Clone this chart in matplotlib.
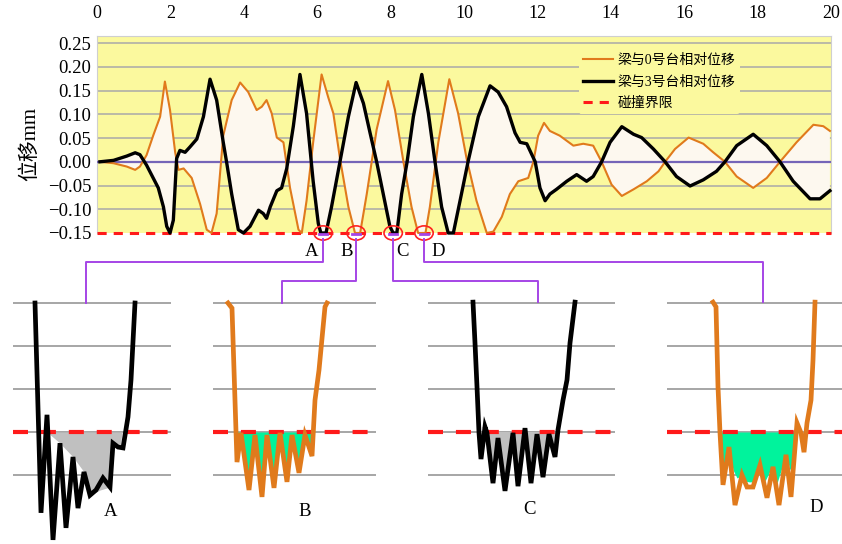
import matplotlib.pyplot as plt
from matplotlib.patches import Ellipse
import numpy as np

plt.rcParams['font.family'] = ['Liberation Serif', 'Noto Sans CJK SC']

# relative displacement of the beam (mm) against time (s)
orange_t = [0.08, 0.45, 0.81, 1.04, 1.17, 1.35, 1.53, 1.72, 1.85, 1.99,
            2.13, 2.22, 2.36, 2.58, 2.81, 2.99, 3.12, 3.26, 3.44, 3.67,
            3.90, 4.12, 4.35, 4.49, 4.62, 4.76, 4.90, 5.08, 5.26, 5.49,
            5.58, 5.71, 5.89, 6.12, 6.30, 6.44, 6.62, 6.85, 7.03, 7.17,
            7.35, 7.62, 7.93, 8.12, 8.35, 8.57, 8.75, 8.95, 9.07, 9.30,
            9.60, 9.84, 10.07, 10.34, 10.62, 10.80, 11.03, 11.25, 11.48, 11.75,
            11.89, 12.02, 12.18, 12.34, 12.61, 12.98, 13.25, 13.52, 13.75, 14.02,
            14.30, 14.62, 14.98, 15.30, 15.48, 15.75, 16.12, 16.52, 16.79, 17.11,
            17.43, 17.88, 18.25, 18.61, 19.06, 19.52, 19.79, 19.97]
orange_y = [0.000, -0.003, -0.010, -0.017, -0.010, 0.014, 0.055, 0.095, 0.169, 0.109,
            0.020, -0.017, -0.014, -0.034, -0.089, -0.143, -0.150, -0.109, 0.055, 0.130,
            0.167, 0.147, 0.109, 0.116, 0.130, 0.102, 0.051, 0.041, -0.055, -0.143,
            -0.150, -0.082, 0.041, 0.184, 0.136, 0.102, 0.007, -0.095, -0.150, -0.150,
            -0.068, 0.068, 0.170, 0.109, 0.000, -0.095, -0.150, -0.150, -0.095, 0.041,
            0.174, 0.102, 0.007, -0.082, -0.150, -0.147, -0.116, -0.068, -0.041, -0.034,
            0.000, 0.055, 0.082, 0.065, 0.055, 0.034, 0.038, 0.034, 0.000, -0.048,
            -0.072, -0.058, -0.041, -0.020, 0.000, 0.027, 0.051, 0.038, 0.020, 0.000,
            -0.031, -0.055, -0.034, 0.000, 0.041, 0.078, 0.075, 0.065]

black_t = [0.08, 0.45, 0.81, 1.04, 1.17, 1.35, 1.53, 1.67, 1.81, 1.90,
           1.99, 2.08, 2.17, 2.26, 2.40, 2.53, 2.72, 2.90, 3.08, 3.26,
           3.44, 3.53, 3.67, 3.85, 3.99, 4.17, 4.40, 4.53, 4.62, 4.72,
           4.90, 5.03, 5.17, 5.35, 5.53, 5.71, 5.89, 6.03, 6.10, 6.24,
           6.39, 6.62, 6.85, 7.06, 7.26, 7.44, 7.62, 7.80, 7.98, 8.07,
           8.17, 8.30, 8.45, 8.62, 8.85, 9.03, 9.21, 9.39, 9.57, 9.71,
           9.93, 10.11, 10.39, 10.71, 10.93, 11.16, 11.39, 11.53, 11.71, 11.94,
           12.07, 12.21, 12.34, 12.52, 12.80, 13.07, 13.34, 13.52, 13.75, 13.98,
           14.30, 14.62, 14.84, 15.16, 15.48, 15.79, 16.16, 16.52, 16.88, 17.11,
           17.43, 17.88, 18.25, 18.61, 18.97, 19.43, 19.70, 19.97]
black_y = [0.000, 0.003, 0.012, 0.019, 0.015, -0.007, -0.034, -0.055, -0.095, -0.136,
           -0.150, -0.123, 0.007, 0.024, 0.020, 0.031, 0.048, 0.095, 0.174, 0.130,
           0.041, 0.000, -0.068, -0.143, -0.150, -0.136, -0.102, -0.109, -0.119, -0.095,
           -0.061, -0.055, -0.014, 0.075, 0.184, 0.102, -0.041, -0.130, -0.150, -0.150,
           -0.095, 0.000, 0.095, 0.167, 0.123, 0.061, 0.000, -0.068, -0.136, -0.150,
           -0.150, -0.068, 0.000, 0.095, 0.184, 0.102, 0.000, -0.095, -0.150, -0.150,
           -0.068, 0.000, 0.095, 0.160, 0.147, 0.116, 0.061, 0.041, 0.038, 0.000,
           -0.055, -0.082, -0.068, -0.058, -0.041, -0.027, -0.041, -0.031, 0.000, 0.041,
           0.074, 0.058, 0.051, 0.027, 0.000, -0.031, -0.051, -0.038, -0.020, 0.000,
           0.034, 0.058, 0.034, 0.000, -0.041, -0.078, -0.078, -0.061]

limit = -0.15
x_ticks = list(range(0, 21, 2))
y_ticks = [-0.15, -0.10, -0.05, 0.00, 0.05, 0.10, 0.15, 0.20, 0.25]
legend_labels = ['梁与0号台相对位移', '梁与3号台相对位移', '碰撞界限']
y_label = '位移mm'

mark_names = ['A', 'B', 'C', 'D']
mark_t = [6.16, 7.06, 8.07, 8.91]

# zoomed views of the four collisions (local time, mm)
a_x = [2.2, 2.8, 3.4, 4.0, 4.7, 5.3, 6.0, 6.5, 7.1, 7.7, 8.3, 9.0, 9.7, 10.0, 10.5, 11.0, 11.5, 11.8, 12.2]
a_y = [-0.1200, -0.1688, -0.1460, -0.1751, -0.1526, -0.1723, -0.1558, -0.1677, -0.1593, -0.1647,
       -0.1635, -0.1607, -0.1628, -0.1526, -0.1535, -0.1537, -0.1465, -0.1379, -0.1200]
a_fill_x = [3.5, 4.7, 6.0, 7.1, 7.7, 8.7, 9.7, 10.2, 10.7, 10.9]
a_fill_y = [-0.1502, -0.1526, -0.1558, -0.1593, -0.1647, -0.1635, -0.1628, -0.1526, -0.1535, -0.1502]

b_x = [1.5, 1.9, 2.4, 2.8, 3.6, 4.2, 4.9, 5.4, 6.1, 6.7, 7.4, 7.9, 8.6, 9.2, 9.9, 10.2, 10.6, 11.2, 11.4]
b_y = [-0.1200, -0.1212, -0.1570, -0.1502, -0.1635, -0.1507, -0.1651, -0.1507, -0.1630, -0.1502,
       -0.1616, -0.1507, -0.1595, -0.1507, -0.1556, -0.1426, -0.1356, -0.1209, -0.1200]

c_x = [4.5, 4.7, 4.9, 5.1, 5.3, 5.7, 5.9, 6.5, 7.0, 7.7, 8.5, 9.0, 9.7, 10.3, 10.9, 11.5,
       12.1, 12.7, 13.0, 13.5, 13.9, 14.2, 14.7]
c_y = [-0.1198, -0.1293, -0.1395, -0.1502, -0.1563, -0.1488, -0.1502, -0.1619, -0.1514, -0.1637,
       -0.1502, -0.1626, -0.1491, -0.1619, -0.1505, -0.1605, -0.1505, -0.1558, -0.1495, -0.1426,
       -0.1379, -0.1293, -0.1198]

d_x = [4.6, 4.9, 5.1, 5.3, 5.6, 6.2, 6.8, 7.5, 8.0, 8.6, 9.3, 10.0, 10.6, 11.2, 11.9, 12.4,
       12.7, 13.0, 13.4, 13.7, 14.0, 14.4, 14.6, 14.8]
d_y = [-0.1198, -0.1209, -0.1395, -0.1502, -0.1623, -0.1535, -0.1670, -0.1600, -0.1628, -0.1628,
       -0.1577, -0.1653, -0.1581, -0.1670, -0.1553, -0.1651, -0.1565, -0.1479, -0.1502, -0.1547,
       -0.1479, -0.1426, -0.1333, -0.1198]
d_fill_x = [5.3, 5.6, 6.2, 6.6, 7.0, 7.5, 7.8, 8.2, 8.7, 9.2, 9.8, 10.5, 11.0, 11.9, 12.3, 12.7, 13.0]
d_fill_y = [-0.1502, -0.1612, -0.1535, -0.1588, -0.1607, -0.1600, -0.1614, -0.1616, -0.1616,
            -0.1577, -0.1614, -0.1581, -0.1619, -0.1553, -0.1588, -0.1565, -0.1502]

inset_levels = [-0.12, -0.13, -0.14, -0.15, -0.16]

ORANGE = '#e07a1c'
PURPLE = '#a545e6'
W, H = 842, 544

fig = plt.figure(figsize=(W / 100, H / 100), dpi=100)


def px_axes(left, top, width, height):
    return fig.add_axes([left / W, 1 - (top + height) / H, width / W, height / H])


# ---- main chart
ax = px_axes(97, 36, 734, 197)
ax.set_facecolor('#fbf99e')
ax.set_xlim(0, 20)
ax.set_ylim(-0.15, 0.265)
for v in y_ticks[1:]:
    ax.axhline(v, color='#a9a9a9', lw=1.1, zorder=1)

ax.fill(np.r_[orange_t, black_t[::-1]], np.r_[orange_y, black_y[::-1]],
        color='#fdf8ef', lw=0, zorder=2)
ax.axhline(0, color='#7565b8', lw=1.6, zorder=3)
l_red, = ax.plot([0, 20], [limit, limit], color='#ff1a1a', lw=2.2,
                 dashes=(3, 2.3), zorder=3.5, clip_on=False)
l_org, = ax.plot(orange_t, orange_y, color=ORANGE, lw=1.5, zorder=4, clip_on=False)
l_blk, = ax.plot(black_t, black_y, color='black', lw=2.4, zorder=4.5, clip_on=False)

ax.set_xticks(x_ticks)
ax.set_yticks(y_ticks)
ax.set_yticklabels([f'{v:.2f}'.replace('-', '\u2212') for v in y_ticks], fontsize=13.5)
ax.xaxis.set_ticks_position('top')
ax.tick_params(axis='x', labeltop=True, labelbottom=False, length=0, pad=10, labelsize=13)
ax.tick_params(axis='y', length=0, pad=4)
for side in ['left', 'top', 'right']:
    ax.spines[side].set_color('#cfcfcf')
    ax.spines[side].set_linewidth(0.8)
ax.spines['bottom'].set_visible(False)
ax.set_ylabel(y_label, fontsize=15)
ax.yaxis.set_label_coords(-0.078, 0.45)

leg = ax.legend([l_org, l_blk, l_red], legend_labels, loc='upper right',
                bbox_to_anchor=(0.885, 0.965), fontsize=10, frameon=True,
                facecolor='#fbf99e', edgecolor='none', framealpha=1,
                handlelength=2.2, handletextpad=0.3, labelspacing=0.6,
                borderpad=0.3)
leg.set_zorder(10)

for t in mark_t:
    ax.add_patch(Ellipse((t, limit), 0.5, 0.03, fill=False, edgecolor='#ff2020',
                         lw=1.2, zorder=6, clip_on=False))

# ---- zoomed panels
panels = [
    (a_x, a_y, a_fill_x, a_fill_y, 'black', '#c0c0c0', 13, 158),
    (b_x, b_y, b_x, b_y, ORANGE, '#00f39c', 213, 163),
    (c_x, c_y, c_x, c_y, 'black', '#c0c0c0', 428, 187),
    (d_x, d_y, d_fill_x, d_fill_y, ORANGE, '#00f39c', 667, 175),
]
for xs, ys, fx, fy, col, fcol, left, width in panels:
    iax = px_axes(left, 296, width, 248)
    iax.set_xlim(0, width / 10)
    iax.set_ylim(-0.17605, -0.11837)
    iax.axis('off')
    for v in inset_levels:
        iax.axhline(v, color='#8e8e8e', lw=1.1, zorder=1)
    fx, fy = np.array(fx), np.array(fy)
    iax.fill_between(fx, fy, limit, where=fy < limit, interpolate=True,
                     color=fcol, lw=0, zorder=2)
    iax.axhline(limit, color='#ff1a1a', lw=3, dashes=(3.6, 3.1), zorder=3)
    iax.plot(xs, ys, color=col, lw=3.4, zorder=4, solid_joinstyle='miter')

# ---- connectors and letters (pixel overlay)
over = fig.add_axes([0, 0, 1, 1])
over.set_xlim(0, W)
over.set_ylim(H, 0)
over.axis('off')
over.patch.set_alpha(0)


def to_px(t, v):
    return over.transData.inverted().transform(ax.transData.transform((t, v)))


bend_y = [262, 281, 281, 262]
drop_x = [86, 282, 538, 763]
panel_top = [303, 303, 302, 302]
letter_dx = [-12, -9, 9, 14]
for name, t, by, dx, top, ldx in zip(mark_names, mark_t, bend_y, drop_x, panel_top, letter_dx):
    cx, cy = to_px(t, limit)
    over.plot([cx - 4, cx + 4], [cy + 1, cy + 1], color=PURPLE, lw=2)
    over.plot([cx, cx, dx, dx], [cy + 6, by, by, top], color=PURPLE, lw=1.4)
    over.text(cx + ldx, 252, name, fontsize=13.5, ha='center', va='center')

for name, lx, ly in zip(mark_names, [111, 305, 529, 816], [512, 512, 510, 508]):
    over.text(lx, ly, name, fontsize=13.5, ha='center', va='center')

fig.savefig('out.png', dpi=100)
